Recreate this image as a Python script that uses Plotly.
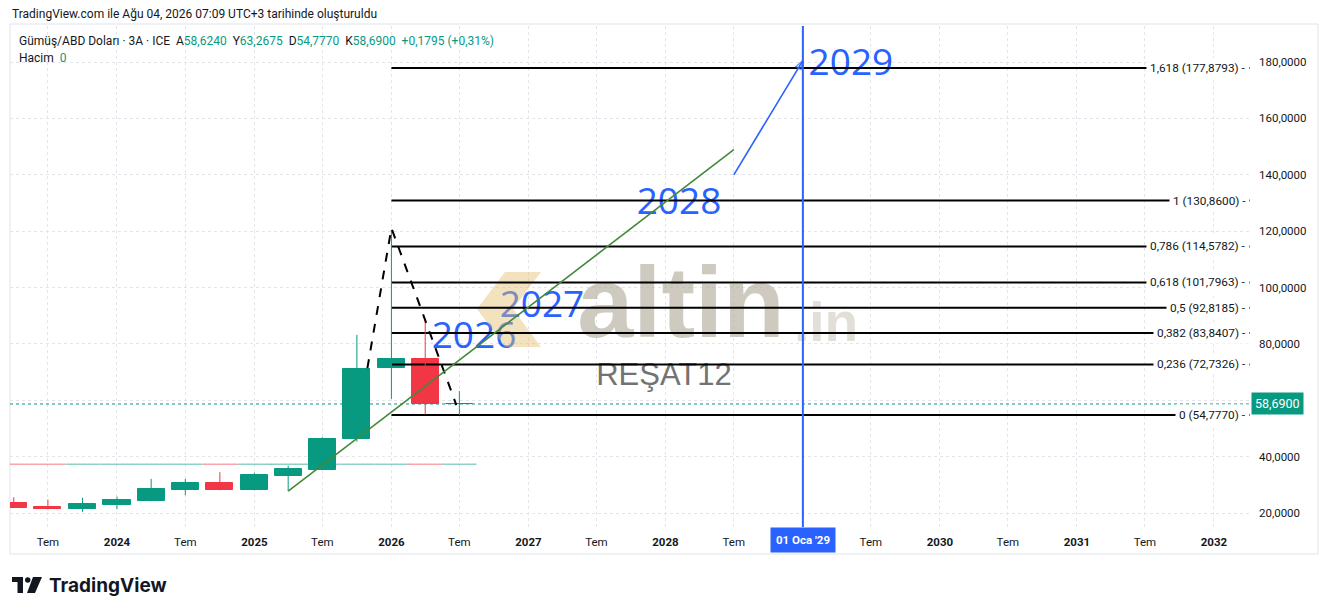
import plotly.graph_objects as go
import pandas as pd

# ---------------- data ----------------
candle_dates = ["2023-04-01", "2023-07-01", "2023-10-01", "2024-01-01", "2024-04-01",
                "2024-07-01", "2024-10-01", "2025-01-01", "2025-04-01", "2025-07-01",
                "2025-10-01", "2026-01-01", "2026-04-01", "2026-07-01"]
opens = [23.4, 22.1, 21.4, 22.8, 24.2, 28.2, 30.6, 28.2, 33.2, 35.4, 46.2, 71.6, 74.7, 58.624]
highs = [25.6, 24.8, 25.4, 25.8, 32.1, 32.1, 34.5, 34.3, 36.8, 46.9, 83.2, 120.5, 88.8, 63.2675]
lows = [21.8, 21.3, 20.4, 21.4, 24.2, 26.3, 28.1, 28.1, 27.8, 35.3, 45.3, 60.5, 55.0, 54.777]
closes = [21.9, 21.4, 23.2, 24.6, 28.5, 30.6, 28.2, 33.5, 35.5, 46.3, 71.1, 74.7, 58.5105, 58.69]
volume_base = 37.3

fib_ratios = ["1,618", "1", "0,786", "0,618", "0,5", "0,382", "0,236", "0"]
fib_values = [177.8793, 130.8600, 114.5782, 101.7963, 92.8185, 83.8407, 72.7326, 54.7770]
fib_start = "2026-01-01"

y_tick_values = [20, 40, 60, 80, 100, 120, 140, 160, 180]
x_tick_dates = ["2023-07-01", "2024-01-01", "2024-07-01", "2025-01-01", "2025-07-01",
                "2026-01-01", "2026-07-01", "2027-01-01", "2027-07-01", "2028-01-01",
                "2028-07-01", "2029-01-01", "2029-07-01", "2030-01-01", "2030-07-01",
                "2031-01-01", "2031-07-01", "2032-01-01"]
x_tick_labels = ["Tem", "2024", "Tem", "2025", "Tem", "2026", "Tem", "2027", "Tem", "2028",
                 "Tem", "", "Tem", "2030", "Tem", "2031", "Tem", "2032"]

zigzag_dates = ["2025-10-29", "2026-01-01", "2026-06-23"]
zigzag_values = [71.4, 121.1, 58.3]
trend_dates = ["2025-04-01", "2028-07-01"]
trend_values = [27.8, 148.9]
arrow_dates = ["2028-07-01", "2029-01-01"]
arrow_values = [140.0, 180.5]
vline_date = "2029-01-01"
vline_label = "01 Oca '29"

year_label_texts = ["2026", "2027", "2028", "2029"]
year_label_dates = ["2026-08-09", "2027-02-06", "2028-02-06", "2029-05-09"]
year_label_values = [81.9, 92.7, 129.5, 178.7]

# ---------------- helpers ----------------
UP, DOWN = "#089981", "#f23645"
BLUE = "#2962ff"
GRID = "#e3e5eb"
x_min, x_max = pd.Timestamp("2023-03-22"), pd.Timestamp("2032-04-06")
y_min, y_max = 15.04, 192.8
OFF = 8  # page body margin
PL, PR, PT, PB = 10, 1250, 26, 527  # plot area in screen pixels
PW, PH = PR - PL, PB - PT
FW, FH = 1328 - OFF, 615 - OFF


def fmt(v, d=4):
    return f"{v:.{d}f}".replace(".", ",")


def px2date(px):
    return x_min + (px - PL) / PW * (x_max - x_min)


def py2val(py):
    return y_min + (PB - py) / PH * (y_max - y_min)


def pxp(px):
    return (px - PL) / PW


def pyp(py):
    return (PB - py) / PH


dts = pd.to_datetime(candle_dates)
fig = go.Figure()

# volume baseline segments
half = pd.Timedelta(days=45.6)
for d, o, c in zip(dts, opens, closes):
    col = "rgba(8,153,129,0.45)" if c >= o else "rgba(242,54,69,0.45)"
    fig.add_trace(go.Scatter(x=[d - half, d + half], y=[volume_base, volume_base], mode="lines",
                             line=dict(color=col, width=1.5), hoverinfo="skip", showlegend=False))

# last price line
fig.add_trace(go.Scatter(x=[x_min, x_max], y=[closes[-1], closes[-1]], mode="lines",
                         line=dict(color=UP, width=1, dash="dot"), hoverinfo="skip", showlegend=False))

# year labels
fig.add_trace(go.Scatter(x=pd.to_datetime(year_label_dates), y=year_label_values, mode="text",
                         text=year_label_texts, textposition="middle center",
                         textfont=dict(family="Open Sans", size=37, color=BLUE),
                         hoverinfo="skip", showlegend=False))

# watermark logo (decoration)
logo_px = [(505, 272), (541, 272), (513, 309), (541, 347), (505, 347), (477, 309), (505, 272)]
fig.add_trace(go.Scatter(x=[px2date(p[0]) for p in logo_px], y=[py2val(p[1]) for p in logo_px],
                         mode="lines", fill="toself", fillcolor="rgba(228,190,110,0.45)",
                         line=dict(width=0), hoverinfo="skip", showlegend=False))
fig.add_trace(go.Scatter(x=[px2date(681)], y=[py2val(312)], mode="text", text=["<b>altin</b>"],
                         textposition="middle center",
                         textfont=dict(family="Liberation Sans", size=101, color="rgba(175,166,150,0.6)"),
                         hoverinfo="skip", showlegend=False))
fig.add_trace(go.Scatter(x=[px2date(826)], y=[py2val(327)], mode="text", text=["<b>.in</b>"],
                         textposition="middle center",
                         textfont=dict(family="Liberation Sans", size=55, color="rgba(190,182,168,0.45)"),
                         hoverinfo="skip", showlegend=False))
fig.add_trace(go.Scatter(x=[px2date(664)], y=[py2val(377)], mode="text", text=["REŞAT12"],
                         textposition="middle center",
                         textfont=dict(family="Liberation Sans", size=31, color="#737373"),
                         hoverinfo="skip", showlegend=False))

# fib lines
for v in fib_values:
    fig.add_trace(go.Scatter(x=[pd.Timestamp(fib_start), x_max], y=[v, v], mode="lines",
                             line=dict(color="#000000", width=2), hoverinfo="skip", showlegend=False))

# candles
for is_up, col in [(True, UP), (False, DOWN)]:
    wx, wy = [], []
    bx, by, bb = [], [], []
    for d, o, h, l, c in zip(dts, opens, highs, lows, closes):
        if (c >= o) != is_up:
            continue
        wx += [d, d, None]
        wy += [l, h, None]
        bx.append(d)
        by.append(abs(c - o))
        bb.append(min(o, c))
    fig.add_trace(go.Scatter(x=wx, y=wy, mode="lines", line=dict(color=col, width=1),
                             hoverinfo="skip", showlegend=False))
    fig.add_trace(go.Bar(x=bx, y=by, base=bb, width=72 * 86400000,
                         marker=dict(color=col, line=dict(color=col, width=1)),
                         hoverinfo="skip", showlegend=False))

# dashed zigzag
fig.add_trace(go.Scatter(x=pd.to_datetime(zigzag_dates), y=zigzag_values, mode="lines",
                         line=dict(color="#000000", width=2, dash="dash"), hoverinfo="skip", showlegend=False))
# green trend line
fig.add_trace(go.Scatter(x=pd.to_datetime(trend_dates), y=trend_values, mode="lines",
                         line=dict(color="#43883a", width=1.6), hoverinfo="skip", showlegend=False))
# vertical blue line
fig.add_trace(go.Scatter(x=[pd.Timestamp(vline_date)] * 2, y=[y_min, y_max], mode="lines",
                         line=dict(color=BLUE, width=2), hoverinfo="skip", showlegend=False))
# blue arrow
fig.add_trace(go.Scatter(x=pd.to_datetime(arrow_dates), y=arrow_values, mode="lines+markers",
                         line=dict(color=BLUE, width=1.6),
                         marker=dict(symbol=["circle", "arrow-open"], size=[0, 9], angleref="previous",
                                     color=BLUE, line=dict(color=BLUE, width=1.5)),
                         hoverinfo="skip", showlegend=False))

# ---------------- annotations ----------------
ann = []
for r, v in zip(fib_ratios, fib_values):
    ann.append(dict(xref="paper", yref="y", x=1, y=v, xanchor="right", yanchor="middle",
                    text=f"{r} ({fmt(v)}) -", showarrow=False, bgcolor="#ffffff", borderpad=3,
                    font=dict(family="Roboto", size=11.8, color="#131722")))
ann.append(dict(xref="paper", yref="y", x=1, y=closes[-1], xanchor="left", yanchor="middle", xshift=1,
                text=fmt(closes[-1]), showarrow=False, bgcolor=UP, borderpad=3,
                font=dict(family="Roboto", size=12.5, color="#ffffff")))
ann.append(dict(xref="x", yref="paper", x=pd.Timestamp(vline_date), y=0, xanchor="center", yanchor="top",
                text=f"<b>{vline_label}</b>", showarrow=False, bgcolor=BLUE, borderpad=5,
                font=dict(family="Roboto", size=11.5, color="#ffffff")))
ann.append(dict(xref="paper", yref="paper", x=pxp(10), y=pyp(14), xanchor="left", yanchor="middle",
                text="TradingView.com ile Ağu 04, 2026 07:09 UTC+3 tarihinde oluşturuldu", showarrow=False,
                font=dict(family="Roboto", size=12, color="#131722")))
g = lambda s: f"<span style='color:{UP}'>{s}</span>"
chg = closes[-1] - closes[-2]
pct = chg / closes[-2] * 100
line2 = ("Gümüş/ABD Doları · 3A · ICE  A" + g(fmt(opens[-1])) + "  Y" + g(fmt(highs[-1])) +
         "  D" + g(fmt(lows[-1])) + "  K" + g(fmt(closes[-1])) + "  " +
         g("+" + fmt(chg) + " (+" + fmt(pct, 2) + "%)"))
ann.append(dict(xref="paper", yref="paper", x=pxp(17), y=pyp(41), xanchor="left", yanchor="middle",
                text=line2, showarrow=False, font=dict(family="Roboto", size=12, color="#131722")))
ann.append(dict(xref="paper", yref="paper", x=pxp(17), y=pyp(58), xanchor="left", yanchor="middle",
                text="Hacim  " + g("0"), showarrow=False, font=dict(family="Roboto", size=12, color="#131722")))
ann.append(dict(xref="paper", yref="paper", x=pxp(47), y=pyp(585), xanchor="left", yanchor="middle",
                text="<b>TradingView</b>", showarrow=False, font=dict(family="Inter", size=19, color="#131722")))

shapes = [
    dict(type="rect", xref="paper", yref="paper", x0=pxp(10), x1=pxp(1318), y0=pyp(554), y1=pyp(24),
         line=dict(color="#e0e3eb", width=1), layer="below"),
    dict(type="rect", xref="paper", yref="paper", x0=pxp(12), x1=pxp(23), y0=pyp(582), y1=pyp(577),
         fillcolor="#131722", line=dict(width=0)),
    dict(type="rect", xref="paper", yref="paper", x0=pxp(17.5), x1=pxp(23), y0=pyp(593), y1=pyp(577),
         fillcolor="#131722", line=dict(width=0)),
    dict(type="circle", xref="paper", yref="paper", x0=pxp(25), x1=pxp(30.5), y0=pyp(582.7), y1=pyp(577.2),
         fillcolor="#131722", line=dict(width=0)),
    dict(type="path", xref="paper", yref="paper",
         path=f"M {pxp(33)} {pyp(577)} L {pxp(42)} {pyp(577)} L {pxp(35)} {pyp(593)} L {pxp(27)} {pyp(593)} Z",
         fillcolor="#131722", line=dict(width=0)),
]

fig.update_layout(
    width=FW, height=FH,
    margin=dict(l=PL - OFF, r=1328 - PR, t=PT - OFF, b=615 - PB),
    paper_bgcolor="#ffffff", plot_bgcolor="#ffffff",
    showlegend=False, bargap=0, barmode="overlay",
    annotations=ann, shapes=shapes,
    xaxis=dict(type="date", range=[x_min, x_max], tickmode="array",
               tickvals=pd.to_datetime(x_tick_dates),
               ticktext=[t if t in ("Tem", "") else f"<b>{t}</b>" for t in x_tick_labels],
               showgrid=True, gridcolor=GRID, griddash="dot", gridwidth=1,
               zeroline=False, showline=False, ticks="", ticklabelstandoff=6,
               tickfont=dict(family="Roboto", size=11.5, color="#131722"), fixedrange=True),
    yaxis=dict(range=[y_min, y_max], side="right", tickmode="array", tickvals=y_tick_values,
               ticktext=["" if v == 60 else fmt(v) for v in y_tick_values],
               showgrid=True, gridcolor=GRID, griddash="dot", gridwidth=1,
               zeroline=False, showline=False, ticks="", ticklabelstandoff=8,
               tickfont=dict(family="Roboto", size=11.5, color="#131722"), fixedrange=True),
)

fig.write_html("out.html")
